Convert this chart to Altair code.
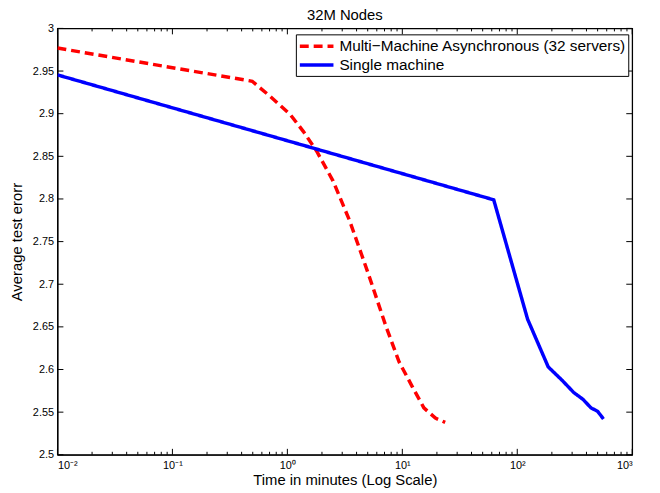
import altair as alt
import pandas as pd

# Multi-Machine Asynchronous (32 servers)
multi_x = [0.01, 0.495, 0.713, 1.06, 1.38, 1.80, 2.50, 3.47, 4.39, 5.16, 7.19, 9.37, 12.2, 15.4, 19.4, 23.6]
multi_y = [2.977, 2.938, 2.920, 2.899, 2.879, 2.856, 2.821, 2.775, 2.736, 2.709, 2.651, 2.609, 2.580, 2.555, 2.543, 2.538]

# Single machine
single_x = [0.01, 62.4, 123, 186, 247, 310, 373, 438, 500, 562]
single_y = [2.9455, 2.799, 2.659, 2.603, 2.587, 2.573, 2.565, 2.555, 2.551, 2.542]

series_names = ["Multi\u2212Machine Asynchronous (32 servers)", "Single machine"]

y_ticks = [2.5, 2.55, 2.6, 2.65, 2.7, 2.75, 2.8, 2.85, 2.9, 2.95, 3.0]
x_major = [0.01, 0.1, 1, 10, 100, 1000]
x_minor = [m * d for d in [0.01, 0.1, 1, 10, 100] for m in range(2, 10)]

W, H = 581, 431
FONT = "Liberation Sans"

rows = []
for x, y in zip(multi_x, multi_y):
    rows.append({"t": x, "err": y, "series": series_names[0]})
for x, y in zip(single_x, single_y):
    rows.append({"t": x, "err": y, "series": series_names[1]})
df = pd.DataFrame(rows)

xscale = alt.Scale(type="log", domain=[0.01, 1000], nice=False)
yscale = alt.Scale(domain=[2.5, 3.0], nice=False)

label_expr = ("'10' + ['\u207b\u00b2','\u207b\u00b9','\u2070','\u00b9','\u00b2','\u00b3']"
              "[round(log(datum.value)/LN10)+2]")

x_axis = alt.Axis(values=x_major, labelExpr=label_expr, title="Time in minutes (Log Scale)",
                  ticks=False, domain=True, domainColor="black", domainWidth=1, grid=False,
                  labelPadding=5, labelFontSize=11, titleFontSize=15, titlePadding=2,
                  titleFontWeight="normal", labelFont=FONT, titleFont=FONT,
                  labelColor="black", titleColor="black")
y_axis = alt.Axis(values=y_ticks, format=".3~g", title="Average test erorr",
                  ticks=False, domain=True, domainColor="black", domainWidth=1, grid=False,
                  labelPadding=4, labelFontSize=11, titleFontSize=15, titlePadding=8,
                  titleFontWeight="normal", labelFont=FONT, titleFont=FONT,
                  labelColor="black", titleColor="black")

legend = alt.Legend(orient="none", legendX=241, legendY=6,
                    symbolType="M-1.0,0H3.25", symbolSize=256, symbolStrokeWidth=3.5,
                    labelFontSize=15.5, labelFont=FONT, labelColor="black",
                    labelOffset=22, rowPadding=-4, padding=2,
                    strokeColor="black", fillColor="white", cornerRadius=0,
                    labelLimit=400)

lines = alt.Chart(df).mark_line(strokeWidth=3.5, strokeJoin="miter", clip=True).encode(
    x=alt.X("t:Q", scale=xscale, axis=x_axis),
    y=alt.Y("err:Q", scale=yscale, axis=y_axis),
    color=alt.Color("series:N", scale=alt.Scale(domain=series_names, range=["#ff0000", "#0000ff"]),
                    title=None, legend=legend),
    strokeDash=alt.StrokeDash("series:N",
                              scale=alt.Scale(domain=series_names, range=[[9, 5], [1, 0]]),
                              title=None, legend=legend),
)

ydf = pd.DataFrame({"v": y_ticks})
xmaj = pd.DataFrame({"v": x_major})
xmin = pd.DataFrame({"v": x_minor})

def yrule(x1, x2):
    return alt.Chart(ydf).mark_rule(color="black", strokeWidth=1).encode(
        y=alt.Y("v:Q", scale=yscale, axis=y_axis), x=alt.value(x1), x2=alt.value(x2))

def xrule(data, y1, y2):
    return alt.Chart(data).mark_rule(color="black", strokeWidth=1).encode(
        x=alt.X("v:Q", scale=xscale, axis=x_axis), y=alt.value(y1), y2=alt.value(y2))

ticks = [
    yrule(0, 6), yrule(W - 6, W),
    xrule(xmaj, H, H - 6), xrule(xmaj, 0, 6),
    xrule(xmin, H, H - 3), xrule(xmin, 0, 3),
]

chart = alt.layer(lines, *ticks).properties(
    width=W, height=H,
    background="white",
    title=alt.Title("32M Nodes", fontSize=15, fontWeight="normal", font=FONT, color="black", offset=0),
    autosize=alt.AutoSizeParams(type="none"),
    padding={"left": 50, "top": 18, "right": 20, "bottom": 36},
).configure_view(stroke="black", strokeWidth=1.3)

chart.save("out.html", embed_options={"renderer": "svg", "actions": False})
